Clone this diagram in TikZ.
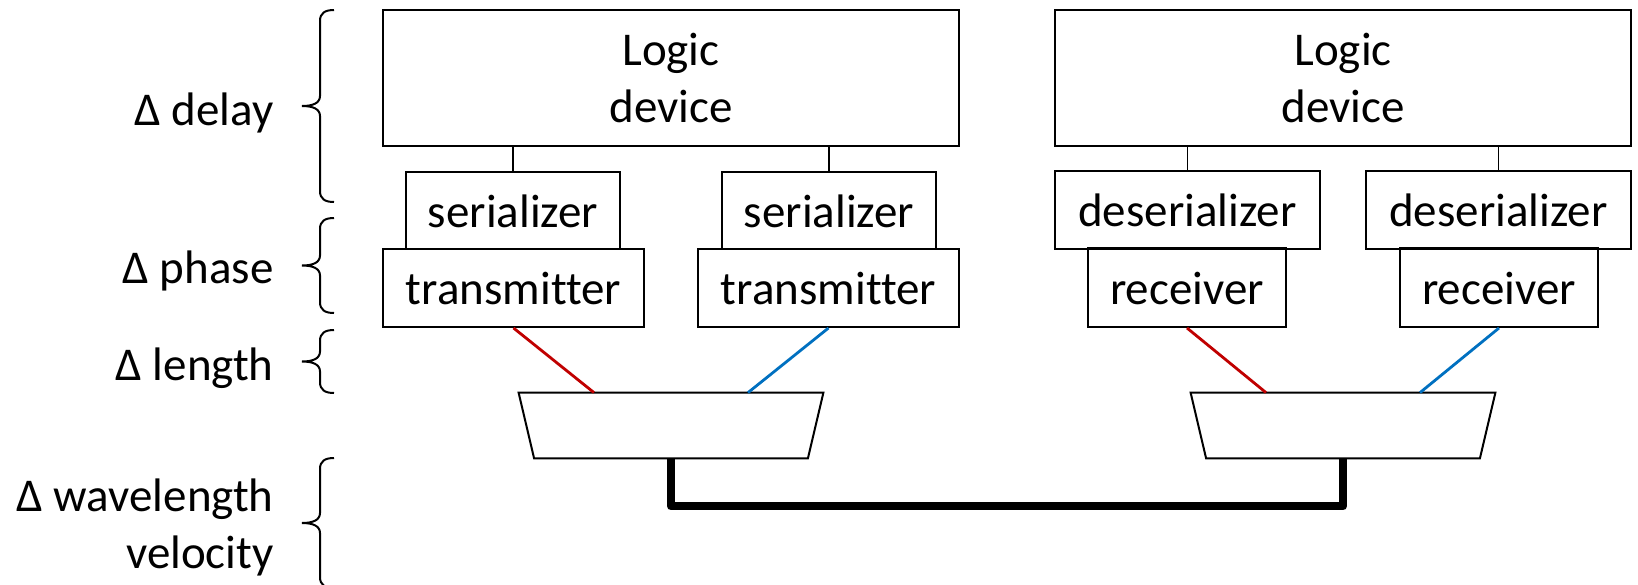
\documentclass[tikz,border=0pt]{standalone}
\usepackage{fontspec}
\setmainfont[Ligatures=NoCommon]{Carlito}
\definecolor{myred}{HTML}{C00000}
\definecolor{myblue}{HTML}{0070C0}
\newcommand\sidebrace[2]{%
  \pgfmathsetmacro\bm{(#1+#2)/2}%
  \draw[bracestyle] (334,#1) .. controls (325,#1) and (320,#1+3) .. (320,#1+11)
    -- (320,\bm-10) .. controls (320,\bm-3) and (313,\bm) .. (302,\bm)
    .. controls (313,\bm) and (320,\bm+3) .. (320,\bm+10)
    -- (320,#2-11) .. controls (320,#2-3) and (325,#2) .. (334,#2);}
\begin{document}
\begin{tikzpicture}[x=0.5pt,y=-0.5pt,
  font=\fontsize{23.5}{28.5}\selectfont,
  box/.style={draw, line width=1pt, inner sep=0pt, text height=16.5pt, text depth=0pt},
  logic/.style={draw, line width=1pt, inner sep=0pt, align=center, minimum width=288pt, minimum height=68pt},
  lbl/.style={anchor=base east, inner sep=0pt},
  conn/.style={line width=0.9pt},
  redc/.style={line width=1.4pt, draw=myred},
  bluec/.style={line width=1.4pt, draw=myblue},
  fiber/.style={line width=4pt, line join=round},
  bracestyle/.style={line width=1pt},
  mux/.style={minimum width=152pt, minimum height=32.5pt, inner sep=0pt},
  trap/.style={line width=1pt, line join=miter}]
\useasboundingbox (0,0) rectangle (1638,584);
\clip (0,0) rectangle (1638,584);

% logic devices
\node[logic] (logL) at (671,78) {Logic\\device};
\node[logic] (logR) at (1343,78) {Logic\\device};

% serializers / transmitters
\node[box, minimum width=107pt, minimum height=38.5pt] (serL) at (513,210.5) {serializer};
\node[box, minimum width=107pt, minimum height=38.5pt] (serR) at (829,210.5) {serializer};
\node[box, minimum width=130.5pt, minimum height=39pt] (txL) at (513.5,288) {transmitter};
\node[box, minimum width=130.5pt, minimum height=39pt] (txR) at (828.5,288) {transmitter};

% deserializers / receivers
\node[box, minimum width=132.5pt, minimum height=39pt] (desL) at (1187.5,209.5) {deserializer};
\node[box, minimum width=132.5pt, minimum height=39pt] (desR) at (1498.5,209.5) {deserializer};
\node[box, minimum width=99pt, minimum height=39.5pt] (rxL) at (1187,287.5) {receiver};
\node[box, minimum width=99pt, minimum height=39.5pt] (rxR) at (1499,287.5) {receiver};

% multiplexers
\node[mux] (muxL) at (671,425.5) {};
\node[mux] (muxR) at (1343,425.5) {};
\draw[trap] (muxL.north west) -- (muxL.north east) -- ([xshift=-7.75pt]muxL.south east) -- ([xshift=7.75pt]muxL.south west) -- cycle;
\draw[trap] (muxR.north west) -- (muxR.north east) -- ([xshift=-7.75pt]muxR.south east) -- ([xshift=7.75pt]muxR.south west) -- cycle;

% connectors
\draw[conn] (serL.north) -- (serL.north |- logL.south);
\draw[conn] (serR.north) -- (serR.north |- logL.south);
\draw[conn] (desL.north) -- (desL.north |- logR.south);
\draw[conn] (desR.north) -- (desR.north |- logR.south);
\draw[redc] (txL.south) -- ([xshift=-38.5pt]muxL.north);
\draw[bluec] (txR.south) -- ([xshift=38.5pt]muxL.north);
\draw[redc] (rxL.south) -- ([xshift=-38.5pt]muxR.north);
\draw[bluec] (rxR.south) -- ([xshift=38.5pt]muxR.north);
\draw[fiber] (muxL.south) -- ++(0,48) -| (muxR.south);

% left labels
\node[lbl] (lDelay) at (274,125) {Δ delay};
\node[lbl] (lPhase) at (274,283) {Δ phase};
\node[lbl] (lLength) at (274,380) {Δ length};
\node[anchor=east, align=right, inner sep=0pt] (lWave) at (274,527) {Δ wavelength\\velocity};

% braces
\sidebrace{10}{202}
\sidebrace{218}{313}
\sidebrace{330}{393}
\sidebrace{458}{588}
\end{tikzpicture}
\end{document}
